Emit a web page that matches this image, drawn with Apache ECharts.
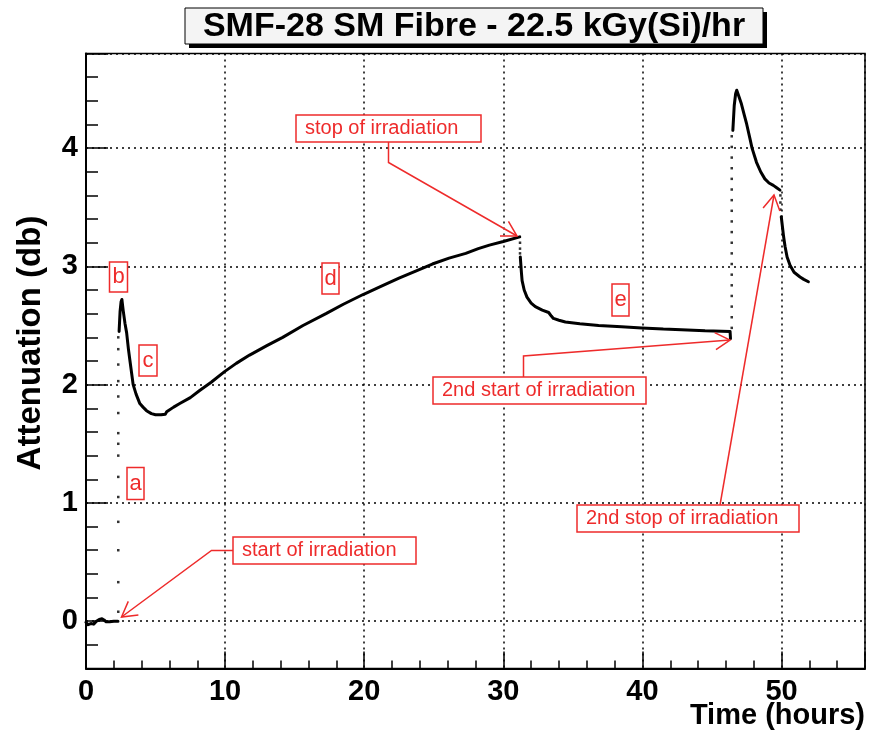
<!DOCTYPE html>
<html>
<head>
<meta charset="utf-8">
<script src="https://cdn.jsdelivr.net/npm/echarts@6/dist/echarts.min.js"></script>
<style>html,body{margin:0;padding:0;background:#fff}#c{width:869px;height:733px}</style>
</head>
<body>
<div id="c"></div>
<script>
// ---- data (time in hours, attenuation in dB) ----
const timeA = [0, 0.15, 0.35, 0.55, 0.75, 0.95, 1.15, 1.3, 1.45, 1.7, 2.0, 2.3];
const valA  = [-0.01, -0.03, -0.02, -0.025, 0.0, 0.015, 0.02, 0.01, -0.005, -0.005, 0.0, 0.0];

const timeB = [2.38, 2.45, 2.52, 2.58, 2.67, 2.8, 2.92, 3.05, 3.15, 3.39, 3.6, 3.87, 4.1, 4.35, 4.7, 5.0, 5.4, 5.7, 5.8, 5.9, 6.3, 6.74, 7.5, 8.17, 9.0, 9.96, 10.8, 11.76, 13.0, 14.14, 15.6, 17.25, 18.5, 19.88, 21.2, 22.5, 23.7, 24.9, 26.1, 27.3, 28.2, 29.0, 30.0, 31.18];
const valB  = [2.45, 2.62, 2.70, 2.72, 2.63, 2.52, 2.44, 2.30, 2.21, 2.0, 1.92, 1.84, 1.81, 1.78, 1.755, 1.745, 1.745, 1.75, 1.77, 1.78, 1.81, 1.84, 1.89, 1.95, 2.02, 2.11, 2.18, 2.25, 2.33, 2.40, 2.50, 2.60, 2.68, 2.76, 2.83, 2.90, 2.96, 3.02, 3.07, 3.11, 3.15, 3.18, 3.21, 3.25];

const timeC = [31.22, 31.3, 31.35, 31.5, 31.7, 32.0, 32.3, 32.8, 33.26, 33.45, 33.6, 34.0, 34.46, 35.5, 36.85, 38.5, 39.95, 41.5, 42.8, 44.5, 46.3, 46.33];
const valC  = [3.08, 2.95, 2.88, 2.80, 2.74, 2.69, 2.66, 2.63, 2.61, 2.58, 2.56, 2.545, 2.53, 2.515, 2.50, 2.49, 2.48, 2.47, 2.465, 2.455, 2.45, 2.39];

const timeD = [46.5, 46.6, 46.7, 46.78, 46.9, 47.1, 47.3, 47.5, 47.73, 47.88, 48.2, 48.5, 48.8, 49.1, 49.41, 49.65, 49.89];
const valD  = [4.15, 4.36, 4.46, 4.49, 4.45, 4.38, 4.29, 4.20, 4.08, 4.00, 3.88, 3.80, 3.74, 3.705, 3.685, 3.665, 3.645];

const timeE = [49.98, 50.05, 50.15, 50.25, 50.4, 50.61, 50.9, 51.33, 51.6, 51.93];
const valE  = [3.42, 3.35, 3.25, 3.17, 3.08, 3.01, 2.95, 2.91, 2.89, 2.87];

// sparse points recorded during the fast jumps
const jumpTime = [2.32, 2.32, 2.32, 2.32, 2.32, 2.32, 2.32, 2.32, 2.32, 2.32, 2.32, 2.32, 2.32, 2.32, 2.32,
                  31.2, 31.2, 31.2,
                  46.42, 46.42, 46.42, 46.42, 46.42, 46.42, 46.42, 46.42, 46.42, 46.42, 46.42, 46.42, 46.42, 46.42, 46.42, 46.42, 46.42, 46.42, 46.42,
                  49.92, 49.92, 49.92];
const jumpVal  = [0.08, 0.33, 0.6, 0.84, 1.05, 1.22, 1.40, 1.50, 1.59, 1.76, 1.90, 2.03, 2.17, 2.30, 2.40,
                  3.20, 3.15, 3.11,
                  2.48, 2.57, 2.66, 2.75, 2.84, 2.93, 3.02, 3.11, 3.20, 3.29, 3.38, 3.47, 3.56, 3.65, 3.74, 3.83, 3.92, 4.01, 4.10,
                  3.60, 3.54, 3.48];

const xTickLabels = ['0', '10', '20', '30', '40', '50'];
const yTickLabels = ['0', '1', '2', '3', '4'];

const titleText = 'SMF-28 SM Fibre - 22.5 kGy(Si)/hr';
const xTitle = 'Time (hours)';
const yTitle = 'Attenuation (db)';

// ---- build ----
const FONT = '"Liberation Sans", Arial, Helvetica, sans-serif';
const RED = '#ee2b2b';
const zip = (t, v) => t.map((x, i) => [x, v[i]]);

const PLOT_LEFT = 86, PLOT_RIGHT_EDGE = 865, PLOT_TOP = 53.5, PLOT_BOTTOM = 668.5;

const dotted = {color: '#000', type: [2, 4], width: 1.5};

function lineSeries(t, v) {
  return {
    type: 'line', xAxisIndex: 0, yAxisIndex: 0, data: zip(t, v),
    showSymbol: false, symbol: 'none', smooth: false,
    lineStyle: {color: '#000', width: 3, join: 'round', cap: 'round'},
    z: 5, silent: true
  };
}

function textBox(x, y, w, h, txt, fs, align) {
  const els = [{
    type: 'rect', shape: {x: x, y: y, width: w, height: h},
    style: {fill: '#fff', stroke: RED, lineWidth: 1.5}, z: 20
  }];
  els.push({
    type: 'text', x: align === 'center' ? x + w / 2 : x + 9, y: y + h / 2,
    style: {text: txt, fill: RED, font: fs + 'px ' + FONT, textAlign: align === 'center' ? 'center' : 'left', textVerticalAlign: 'middle'},
    z: 21
  });
  return els;
}

function arrow(pts) {
  const n = pts.length;
  const [x1, y1] = pts[n - 2], [x2, y2] = pts[n - 1];
  const ang = Math.atan2(y2 - y1, x2 - x1);
  const L = 17, a = Math.PI / 6;
  const h1 = [x2 - L * Math.cos(ang - a), y2 - L * Math.sin(ang - a)];
  const h2 = [x2 - L * Math.cos(ang + a), y2 - L * Math.sin(ang + a)];
  return [
    {type: 'polyline', shape: {points: pts}, style: {stroke: RED, lineWidth: 1.5, fill: null}, z: 19},
    {type: 'polyline', shape: {points: [h1, [x2, y2], h2]}, style: {stroke: RED, lineWidth: 1.5, fill: null}, z: 19}
  ];
}

const graphics = [].concat(
  [{type: 'rect', shape: {x: 189, y: 12, width: 578, height: 36}, style: {fill: '#000'}, z: 30},
   {type: 'rect', shape: {x: 185, y: 8, width: 578, height: 36}, style: {fill: '#f4f4f4', stroke: '#000', lineWidth: 1}, z: 31},
   {type: 'text', x: 474, y: 27, style: {text: titleText, font: 'bold 34px ' + FONT, fill: '#000', textAlign: 'center', textVerticalAlign: 'middle'}, z: 32},
   {type: 'text', x: 865, y: 716, style: {text: xTitle, font: 'bold 29px ' + FONT, fill: '#000', textAlign: 'right', textVerticalAlign: 'middle'}, z: 32},
   {type: 'text', x: 31, y: 343, rotation: Math.PI / 2, style: {text: yTitle, font: 'bold 33px ' + FONT, fill: '#000', textAlign: 'center', textVerticalAlign: 'middle'}, z: 32}],
  textBox(296, 115, 185, 27, 'stop of irradiation', 20),
  arrow([[388.5, 142], [388.5, 162.5], [517, 236]]),
  textBox(233, 537, 183, 27, 'start of irradiation', 20),
  arrow([[233, 550.5], [211.5, 550.5], [121.5, 617]]),
  textBox(433, 377, 213, 27, '2nd start of irradiation', 20),
  arrow([[523.5, 377], [523.5, 356], [730, 340]]),
  textBox(577, 505, 222, 27, '2nd stop of irradiation', 20),
  arrow([[720, 505], [774, 195]]),
  textBox(109.5, 262, 18, 30, 'b', 22, 'center'),
  textBox(139, 345, 18, 31, 'c', 22, 'center'),
  textBox(127, 467.5, 17, 32, 'a', 22, 'center'),
  textBox(322, 263, 17, 31, 'd', 22, 'center'),
  textBox(612, 284, 17, 32, 'e', 22, 'center')
);

const intLabel = (labels) => (v) => {
  const r = Math.round(v);
  const i = labels.indexOf(String(r));
  return (Math.abs(v - r) < 1e-6 && i >= 0) ? labels[i] : '';
};

const chart = echarts.init(document.getElementById('c'), null, {renderer: 'canvas'});
chart.setOption({
  animation: false,
  backgroundColor: '#fff',
  grid: [
    {left: PLOT_LEFT, top: PLOT_TOP, width: PLOT_RIGHT_EDGE - PLOT_LEFT, height: PLOT_BOTTOM - PLOT_TOP,
     show: true, borderColor: '#000', borderWidth: 1.5, backgroundColor: 'transparent', containLabel: false}
  ],
  xAxis: [
    {gridIndex: 0, type: 'value', min: 0, max: 56, interval: 10,
     axisLine: {show: true, onZero: false, lineStyle: {color: '#000', width: 2}},
     axisTick: {show: true, inside: true, length: 17, lineStyle: {color: '#000', width: 1.5}},
     minorTick: {show: true, splitNumber: 5, length: 8, lineStyle: {color: '#000', width: 1.5}},
     axisLabel: {show: true, margin: 9, color: '#000', fontSize: 29, fontWeight: 'bold', fontFamily: FONT,
                 formatter: intLabel(xTickLabels), showMaxLabel: true, showMinLabel: true},
     splitLine: {show: true, lineStyle: dotted}}
  ],
  yAxis: [
    {gridIndex: 0, type: 'value', position: 'left', min: -0.4, max: 4.8, interval: 0.2,
     axisLine: {show: true, onZero: false, lineStyle: {color: '#000', width: 2}},
     axisTick: {show: true, inside: true, length: 12, lineStyle: {color: '#000', width: 1.5}},
     axisLabel: {show: false},
     splitLine: {show: false}},
    {gridIndex: 0, type: 'value', position: 'left', offset: 0, min: -0.4, max: 4.8, splitNumber: 5,
     axisLine: {show: false, onZero: false},
     axisTick: {show: true, inside: true, length: 22, lineStyle: {color: '#000', width: 1.5}},
     axisLabel: {show: true, margin: 8, color: '#000', fontSize: 29, fontWeight: 'bold', fontFamily: FONT,
                 formatter: intLabel(yTickLabels), showMinLabel: true, showMaxLabel: true},
     splitLine: {show: true, lineStyle: dotted}}
  ],
  series: [
    lineSeries(timeA, valA),
    lineSeries(timeB, valB),
    lineSeries(timeC, valC),
    lineSeries(timeD, valD),
    lineSeries(timeE, valE),
    {type: 'scatter', xAxisIndex: 0, yAxisIndex: 0, data: zip(jumpTime, jumpVal),
     symbol: 'rect', symbolSize: 2.5, itemStyle: {color: '#000'}, z: 5, silent: true}
  ],
  graphic: graphics
});
</script>
</body>
</html>
